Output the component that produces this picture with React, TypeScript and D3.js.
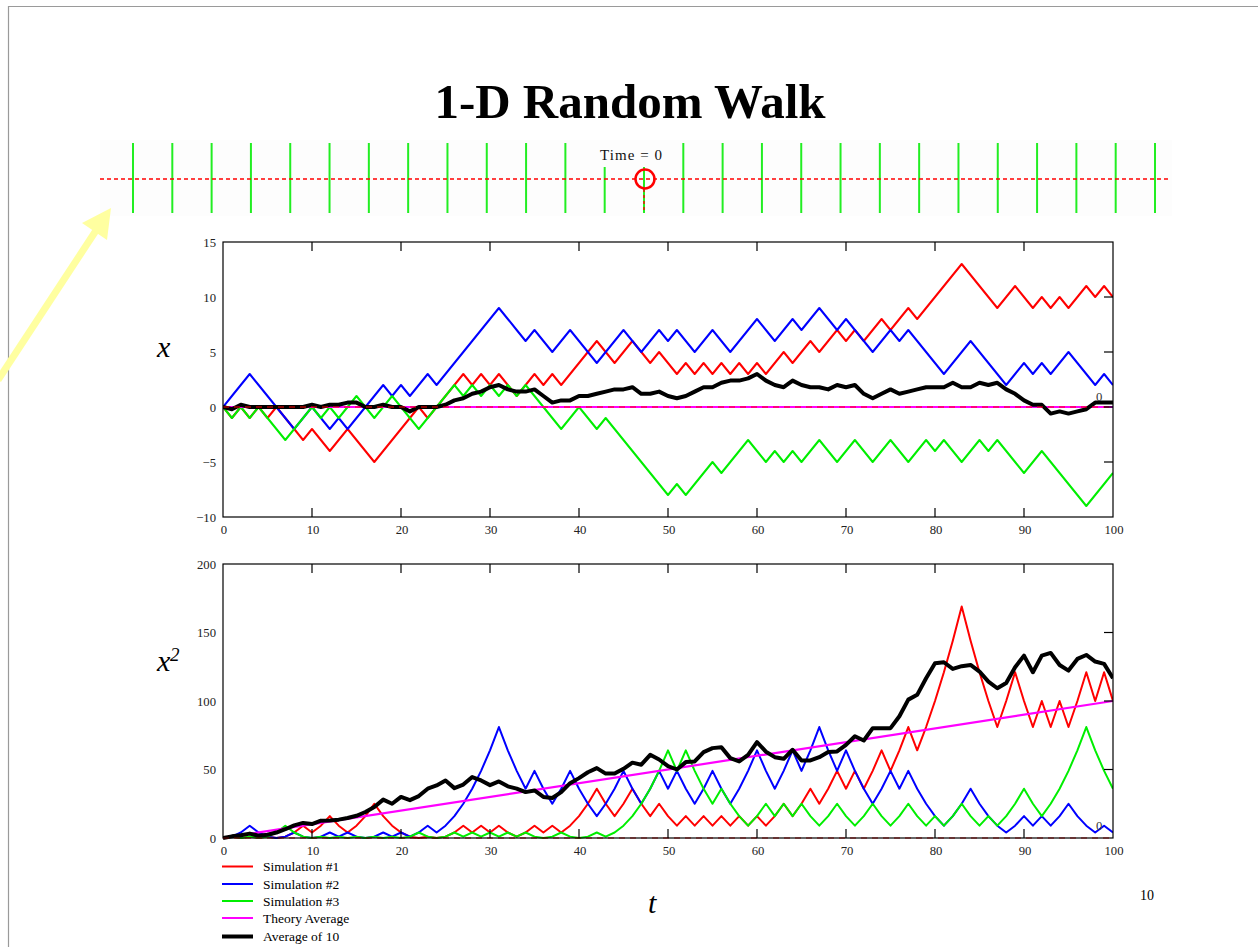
import React from "react";
import * as d3 from "d3";

// ---------- data ----------
const times: number[] = [
  0, 1, 2, 3, 4, 5, 6, 7, 8, 9, 10, 11, 12, 13, 14, 15, 16, 17, 18, 19, 20,
  21, 22, 23, 24, 25, 26, 27, 28, 29, 30, 31, 32, 33, 34, 35, 36, 37, 38, 39, 40,
  41, 42, 43, 44, 45, 46, 47, 48, 49, 50, 51, 52, 53, 54, 55, 56, 57, 58, 59, 60,
  61, 62, 63, 64, 65, 66, 67, 68, 69, 70, 71, 72, 73, 74, 75, 76, 77, 78, 79, 80,
  81, 82, 83, 84, 85, 86, 87, 88, 89, 90, 91, 92, 93, 94, 95, 96, 97, 98, 99, 100,
];

const sim1X: number[] = [
  0, -1, 0, -1, 0, -1, 0, -1, -2, -3,
  -2, -3, -4, -3, -2, -3, -4, -5, -4, -3,
  -2, -1, 0, -1, 0, 1, 2, 3, 2, 3,
  2, 3, 2, 1, 2, 3, 2, 3, 2, 3,
  4, 5, 6, 5, 4, 5, 6, 5, 4, 5,
  4, 3, 4, 3, 4, 3, 4, 3, 4, 3,
  4, 3, 4, 5, 4, 5, 6, 5, 6, 7,
  6, 7, 6, 7, 8, 7, 8, 9, 8, 9,
  10, 11, 12, 13, 12, 11, 10, 9, 10, 11,
  10, 9, 10, 9, 10, 9, 10, 11, 10, 11,
  10,
];
const sim2X: number[] = [
  0, 1, 2, 3, 2, 1, 0, -1, -2, -1,
  0, -1, -2, -1, -2, -1, 0, 1, 2, 1,
  2, 1, 2, 3, 2, 3, 4, 5, 6, 7,
  8, 9, 8, 7, 6, 7, 6, 5, 6, 7,
  6, 5, 4, 5, 6, 7, 6, 5, 6, 7,
  6, 7, 6, 5, 6, 7, 6, 5, 6, 7,
  8, 7, 6, 7, 8, 7, 8, 9, 8, 7,
  8, 7, 6, 5, 6, 7, 6, 7, 6, 5,
  4, 3, 4, 5, 6, 5, 4, 3, 2, 3,
  4, 3, 4, 3, 4, 5, 4, 3, 2, 3,
  2,
];
const sim3X: number[] = [
  0, -1, 0, -1, 0, -1, -2, -3, -2, -1,
  0, -1, 0, -1, 0, 1, 0, -1, 0, 1,
  0, -1, -2, -1, 0, 1, 2, 1, 2, 1,
  2, 1, 2, 1, 2, 1, 0, -1, -2, -1,
  0, -1, -2, -1, -2, -3, -4, -5, -6, -7,
  -8, -7, -8, -7, -6, -5, -6, -5, -4, -3,
  -4, -5, -4, -5, -4, -5, -4, -3, -4, -5,
  -4, -3, -4, -5, -4, -3, -4, -5, -4, -3,
  -4, -3, -4, -5, -4, -3, -4, -3, -4, -5,
  -6, -5, -4, -5, -6, -7, -8, -9, -8, -7,
  -6,
];
const avgX: number[] = [
  0, -0.2, 0.2, 0, 0, 0, 0, 0, 0, 0,
  0.2, 0, 0.2, 0.2, 0.4, 0.4, 0, 0, 0.2, 0,
  0, -0.4, 0, 0, 0, 0.2, 0.6, 0.8, 1.2, 1.4,
  1.8, 2.0, 1.6, 1.4, 1.4, 1.6, 1.0, 0.4, 0.6, 0.6,
  1.0, 1.0, 1.2, 1.4, 1.6, 1.6, 1.8, 1.2, 1.2, 1.4,
  1.0, 0.8, 1.0, 1.4, 1.8, 1.8, 2.2, 2.4, 2.4, 2.6,
  3.0, 2.4, 2.0, 1.8, 2.4, 2.0, 1.8, 1.8, 1.6, 2.0,
  1.8, 2.0, 1.2, 0.8, 1.2, 1.6, 1.2, 1.4, 1.6, 1.8,
  1.8, 1.8, 2.2, 1.8, 1.8, 2.2, 2.0, 2.2, 1.6, 1.2,
  0.6, 0.2, 0.2, -0.6, -0.4, -0.6, -0.4, -0.2, 0.4, 0.4,
  0.4,
];
const theoryXTimes: number[] = [0, 100];
const theoryX: number[] = [0, 0];

const sim1X2: number[] = [
  0, 1, 0, 1, 0, 1, 0, 1, 4, 9,
  4, 9, 16, 9, 4, 9, 16, 25, 16, 9,
  4, 1, 0, 1, 0, 1, 4, 9, 4, 9,
  4, 9, 4, 1, 4, 9, 4, 9, 4, 9,
  16, 25, 36, 25, 16, 25, 36, 25, 16, 25,
  16, 9, 16, 9, 16, 9, 16, 9, 16, 9,
  16, 9, 16, 25, 16, 25, 36, 25, 36, 49,
  36, 49, 36, 49, 64, 49, 64, 81, 64, 81,
  100, 121, 144, 169, 144, 121, 100, 81, 100, 121,
  100, 81, 100, 81, 100, 81, 100, 121, 100, 121,
  100,
];
const sim2X2: number[] = [
  0, 1, 4, 9, 4, 1, 0, 1, 4, 1,
  0, 1, 4, 1, 4, 1, 0, 1, 4, 1,
  4, 1, 4, 9, 4, 9, 16, 25, 36, 49,
  64, 81, 64, 49, 36, 49, 36, 25, 36, 49,
  36, 25, 16, 25, 36, 49, 36, 25, 36, 49,
  36, 49, 36, 25, 36, 49, 36, 25, 36, 49,
  64, 49, 36, 49, 64, 49, 64, 81, 64, 49,
  64, 49, 36, 25, 36, 49, 36, 49, 36, 25,
  16, 9, 16, 25, 36, 25, 16, 9, 4, 9,
  16, 9, 16, 9, 16, 25, 16, 9, 4, 9,
  4,
];
const sim3X2: number[] = [
  0, 1, 0, 1, 0, 1, 4, 9, 4, 1,
  0, 1, 0, 1, 0, 1, 0, 1, 0, 1,
  0, 1, 4, 1, 0, 1, 4, 1, 4, 1,
  4, 1, 4, 1, 4, 1, 0, 1, 4, 1,
  0, 1, 4, 1, 4, 9, 16, 25, 36, 49,
  64, 49, 64, 49, 36, 25, 36, 25, 16, 9,
  16, 25, 16, 25, 16, 25, 16, 9, 16, 25,
  16, 9, 16, 25, 16, 9, 16, 25, 16, 9,
  16, 9, 16, 25, 16, 9, 16, 9, 16, 25,
  36, 25, 16, 25, 36, 49, 64, 81, 64, 49,
  36,
];
const avgX2: number[] = [
  0, 1.2, 2, 3.2, 1.6, 2.4, 4, 6.4, 9.2, 11,
  10.2, 12.6, 12.8, 13.4, 14.6, 16.2, 19, 22.6, 28, 25,
  30, 27.6, 30.6, 36, 38.4, 42, 36.4, 39, 44.5, 42,
  38.6, 41.3, 37.7, 36, 33.5, 34.7, 30, 29.2, 33.5, 40,
  43.7, 48, 51, 47, 47, 50.5, 55, 53.5, 60.7, 57.3,
  52.5, 50, 55.4, 55.9, 62.7, 65.6, 66.3, 58.3, 55.9, 60.7,
  70, 63, 59, 57.8, 64.4, 56.6, 56.6, 59, 62.7, 63.2,
  68, 74.3, 71.2, 80.2, 80.2, 80.2, 88.9, 101, 104.5, 116.6,
  127.6, 128.3, 123.4, 125.4, 126.3, 121.5, 114.2, 109.3, 113.2, 124.6,
  133.1, 121, 133.1, 135.1, 126.3, 122.2, 130.7, 133.6, 128.8, 127.1,
  116.6,
];
const theoryX2Times: number[] = [0, 100];
const theoryX2: number[] = [0, 100];

const xTickValues: number[] = [0, 10, 20, 30, 40, 50, 60, 70, 80, 90, 100];
const topYTicks: number[] = [-10, -5, 0, 5, 10, 15];
const botYTicks: number[] = [0, 50, 100, 150, 200];

const latticeSites: number[] = [
  -13, -12, -11, -10, -9, -8, -7, -6, -5, -4, -3, -2, -1, 0,
  1, 2, 3, 4, 5, 6, 7, 8, 9, 10, 11, 12, 13,
];
const walkerSite = 0;
const timeLabel = "Time = 0";

const legendItems = [
  { label: "Simulation #1", color: "#ff0000", width: 2 },
  { label: "Simulation #2", color: "#0000ff", width: 2 },
  { label: "Simulation #3", color: "#00ee00", width: 2 },
  { label: "Theory Average", color: "#ff00ff", width: 2 },
  { label: "Average of 10", color: "#000000", width: 4 },
];

const SERIF = "'Liberation Serif', 'Times New Roman', Times, serif";
const RED = "#ff0000";
const BLUE = "#0000ff";
const GREEN = "#00ee00";
const MAGENTA = "#ff00ff";

function fmt(v: number) {
  return v < 0 ? "\u2212" + Math.abs(v) : String(v);
}

type Series = { xs: number[]; ys: number[]; color: string; width: number };

function Chart(props: {
  yDomain: [number, number];
  top: number;
  bottom: number;
  yTicks: number[];
  series: Series[];
  markerLabelY: number;
}) {
  const { yDomain, top, bottom, yTicks, series } = props;
  const left = 223;
  const right = 1113;
  const x = d3.scaleLinear().domain([0, 100]).range([left, right]);
  const y = d3.scaleLinear().domain(yDomain).range([bottom, top]);
  const mk = (xs: number[], ys: number[]) =>
    d3
      .line<number>()
      .x((_, i) => x(xs[i]))
      .y((d) => y(d))(ys) || "";
  const tickLen = 9;
  const innerX = xTickValues.filter((v) => v > 0 && v < 100);
  const innerY = yTicks.filter((v) => v > yDomain[0] && v < yDomain[1]);
  const zeroY = y(0);
  return (
    <g>
      <defs>
        <clipPath id={`clip${top}`}>
          <rect x={left} y={top - 3} width={right - left} height={bottom - top + 6} />
        </clipPath>
      </defs>
      <g clipPath={`url(#clip${top})`}>
        {series.map((s, i) => (
          <path
            key={i}
            d={mk(s.xs, s.ys)}
            fill="none"
            stroke={s.color}
            strokeWidth={s.width}
            strokeLinejoin="round"
          />
        ))}
        <line
          x1={left}
          x2={right}
          y1={zeroY}
          y2={zeroY}
          stroke={RED}
          strokeWidth={1.2}
          strokeDasharray="6 5"
        />
      </g>
      <rect
        x={left}
        y={top}
        width={right - left}
        height={bottom - top}
        fill="none"
        stroke="#000"
        strokeWidth={1.2}
      />
      {innerX.map((v) => (
        <g key={"tx" + v}>
          <line x1={x(v)} x2={x(v)} y1={top} y2={top + tickLen} stroke="#000" strokeWidth={1.2} />
          <line x1={x(v)} x2={x(v)} y1={bottom} y2={bottom - tickLen} stroke="#000" strokeWidth={1.2} />
        </g>
      ))}
      {innerY.map((v) => (
        <line key={"ty" + v} x1={right} x2={right - tickLen} y1={y(v)} y2={y(v)} stroke="#000" strokeWidth={1.2} />
      ))}
      {xTickValues.map((v) => (
        <text
          key={"lx" + v}
          x={x(v) + 1}
          y={bottom + 17}
          textAnchor="middle"
          fontFamily={SERIF}
          fontSize={12.7}
          fill="#222"
        >
          {v}
        </text>
      ))}
      {yTicks.map((v) => (
        <text
          key={"ly" + v}
          x={216}
          y={y(v) + 4.5}
          textAnchor="end"
          fontFamily={SERIF}
          fontSize={12.7}
          fill="#222"
        >
          {fmt(v)}
        </text>
      ))}
      <text x={1096} y={props.markerLabelY} fontFamily={SERIF} fontSize={12.7} fill="#333">
        0
      </text>
    </g>
  );
}

export default function App() {
  const site = d3.scaleLinear().domain([-13, 13]).range([133, 1155]);
  const walkerX = site(walkerSite);

  const topSeries: Series[] = [
    { xs: times, ys: sim1X, color: RED, width: 2 },
    { xs: times, ys: sim2X, color: BLUE, width: 2 },
    { xs: times, ys: sim3X, color: GREEN, width: 2 },
    { xs: theoryXTimes, ys: theoryX, color: MAGENTA, width: 2.2 },
    { xs: times, ys: avgX, color: "#000", width: 4 },
  ];
  const botSeries: Series[] = [
    { xs: times, ys: sim1X2, color: RED, width: 2 },
    { xs: times, ys: sim2X2, color: BLUE, width: 2 },
    { xs: times, ys: sim3X2, color: GREEN, width: 2 },
    { xs: theoryX2Times, ys: theoryX2, color: MAGENTA, width: 2.2 },
    { xs: times, ys: avgX2, color: "#000", width: 4 },
  ];

  return (
    <svg
      width={1258}
      height={947}
      style={{ position: "absolute", left: 0, top: 0, background: "#fff" }}
    >
      <rect x={0} y={0} width={1258} height={947} fill="#fff" />
      {/* slide frame */}
      <line x1={8} x2={1258} y1={6.5} y2={6.5} stroke="#9a9a9a" strokeWidth={1.2} />
      <line x1={8.5} x2={8.5} y1={6} y2={947} stroke="#9a9a9a" strokeWidth={1.2} />

      {/* title */}
      <text
        x={630}
        y={118}
        textAnchor="middle"
        fontFamily={SERIF}
        fontWeight="bold"
        fontSize={49}
        fill="#000"
      >
        1-D Random Walk
      </text>

      {/* lattice strip */}
      <rect x={100} y={140} width={1072} height={76} fill="#fdfdfd" />
      {latticeSites.map((s) => {
        const sx = site(s);
        const short = s === walkerSite || s === walkerSite - 1;
        return (
          <line
            key={"site" + s}
            x1={sx}
            x2={sx}
            y1={short ? 167 : 143}
            y2={213}
            stroke="#22ee22"
            strokeWidth={2}
          />
        );
      })}
      <line
        x1={100}
        x2={1170}
        y1={179}
        y2={179}
        stroke={RED}
        strokeWidth={1.4}
        strokeDasharray="4 3"
      />
      <line
        x1={walkerX}
        x2={walkerX}
        y1={189}
        y2={213}
        stroke={RED}
        strokeWidth={1.4}
        strokeDasharray="3 3"
      />
      <circle cx={walkerX + 1} cy={179} r={9.5} fill="none" stroke={RED} strokeWidth={2.5} />
      <text x={600} y={160} fontFamily={SERIF} fontSize={15} fill="#111" textLength={62}>
        {timeLabel}
      </text>

      {/* yellow arrow */}
      <line x1={-2} y1={380} x2={97} y2={229} stroke="#ffffa0" strokeWidth={7} />
      <polygon points="111,208 82,223 107,240" fill="#ffffa0" />

      {/* charts */}
      <Chart
        yDomain={[-10, 15]}
        top={242}
        bottom={517}
        yTicks={topYTicks}
        series={topSeries}
        markerLabelY={400.5}
      />
      <Chart
        yDomain={[0, 200]}
        top={564}
        bottom={838}
        yTicks={botYTicks}
        series={botSeries}
        markerLabelY={830}
      />

      {/* axis labels */}
      <text x={157} y={357} fontFamily={SERIF} fontStyle="italic" fontSize={30} fill="#000">
        x
      </text>
      <text x={157} y={671} fontFamily={SERIF} fontStyle="italic" fontSize={30} fill="#000">
        x
      </text>
      <text x={170} y={661} fontFamily={SERIF} fontStyle="italic" fontSize={19} fill="#000">
        2
      </text>
      <text x={648} y={913} fontFamily={SERIF} fontStyle="italic" fontSize={30} fill="#000">
        t
      </text>

      {/* legend */}
      {legendItems.map((it, i) => {
        const ly = [866.5, 884, 901, 918, 936.5][i];
        return (
          <g key={it.label}>
            <line x1={222} x2={253} y1={ly} y2={ly} stroke={it.color} strokeWidth={it.width} />
            <text x={263} y={ly + 4.5} fontFamily={SERIF} fontSize={13.5} fill="#000">
              {it.label}
            </text>
          </g>
        );
      })}

      {/* page number */}
      <text x={1140} y={900} fontFamily={SERIF} fontSize={14} fill="#000">
        10
      </text>
    </svg>
  );
}
